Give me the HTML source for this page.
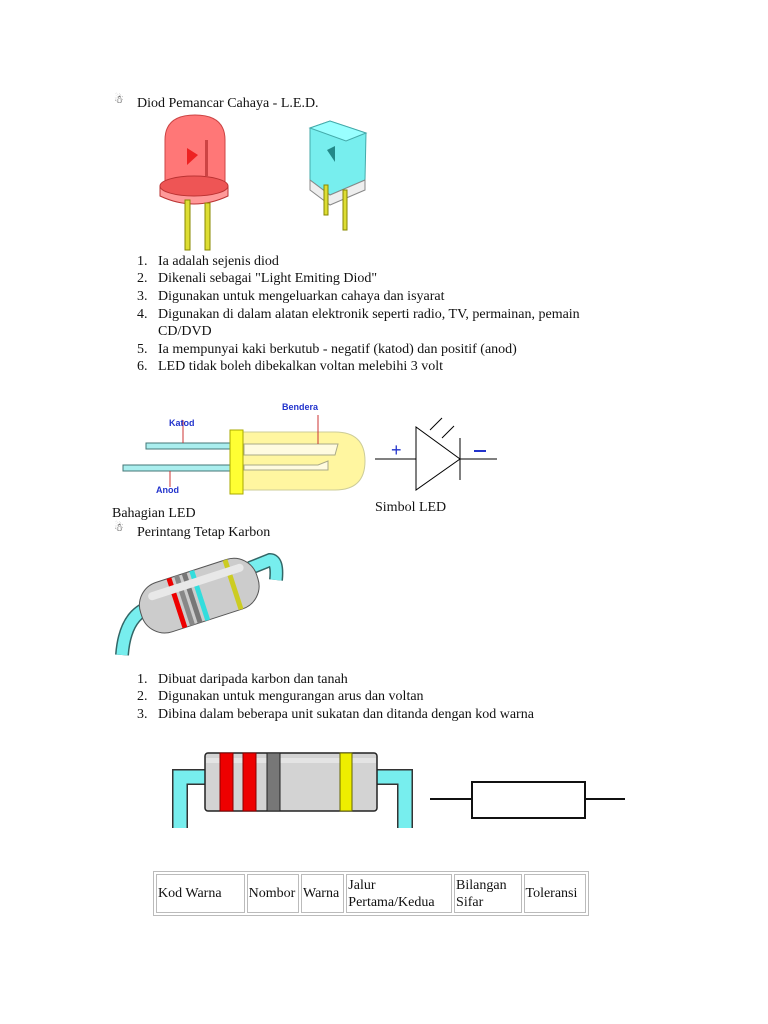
<!DOCTYPE html>
<html><head><meta charset="utf-8"><style>
body{margin:0;width:768px;height:1024px;background:#fff;position:relative;font-family:"Liberation Serif",serif;font-size:14px;color:#111;overflow:hidden}
.t{position:absolute;white-space:nowrap;line-height:17px}
svg{position:absolute;left:0;top:0}
table{position:absolute;left:153px;top:871px;border-collapse:separate;border-spacing:2px;border:1px solid #bbb;font-size:14px;table-layout:fixed;width:436px}
td{border:1px solid #bbb;height:37px;padding:0 1px;line-height:17px;overflow:hidden;white-space:nowrap}
</style></head><body>
<svg width="768" height="1024">
<!-- red LED -->
<path d="M165 182 L165 140 Q165 115 195 115 Q225 115 225 140 L225 182 Z" fill="#f77" stroke="#c44"/>
<path d="M160 186 L160 196 Q194 212 228 196 L228 186" fill="#f99" stroke="#b33"/>
<ellipse cx="194" cy="186" rx="34" ry="10" fill="#e55" stroke="#b33"/>
<rect x="185" y="200" width="5" height="50" fill="#dd3" stroke="#880"/>
<rect x="205" y="203" width="5" height="47" fill="#dd3" stroke="#880"/>
<path d="M187 148 L198 155 L187 165 Z" fill="#e22"/>
<path d="M205 140 L208 140 L208 176 L205 176 Z" fill="#c44"/>
<!-- cyan LED -->
<path d="M310 128 L330 121 L366 133 L365 180 L330 195 L310 180 Z" fill="#7ee" stroke="#4aa"/>
<path d="M310 128 L330 121 L366 133 L346 141 Z" fill="#9ff" stroke="#4aa"/>
<path d="M310 180 L330 195 L365 180 L365 190 L330 205 L310 190 Z" fill="#eee" stroke="#888"/>
<rect x="324" y="185" width="4" height="30" fill="#dd3" stroke="#880"/>
<rect x="343" y="190" width="4" height="40" fill="#dd3" stroke="#880"/>
<path d="M327 150 L335 146 L335 162 Z" fill="#288"/>
<!-- LED parts -->
<rect x="146" y="443" width="86" height="6" fill="#aee" stroke="#477"/>
<rect x="123" y="465" width="109" height="6" fill="#aee" stroke="#477"/>
<path d="M243 432 L335 432 Q365 432 365 461 Q365 490 335 490 L243 490 Z" fill="#fff6a0" stroke="#cc9"/>
<rect x="230" y="430" width="13" height="64" fill="#ff3" stroke="#aa0"/>
<path d="M244 444 L338 444 L335 455 L244 455 Z" fill="#fffbe0" stroke="#aa8"/>
<path d="M244 465 L318 465 L328 461 L328 470 L244 470 Z" fill="#fffbe0" stroke="#aa8"/>
<line x1="183" y1="420" x2="183" y2="443" stroke="#c33"/>
<line x1="170" y1="471" x2="170" y2="487" stroke="#c33"/>
<line x1="318" y1="415" x2="318" y2="444" stroke="#c33"/>
<g font-family="Liberation Sans,sans-serif" font-size="9" fill="#23c" font-weight="bold">
<text x="169" y="426">Katod</text><text x="156" y="493">Anod</text><text x="282" y="410">Bendera</text></g>
<!-- symbol -->
<line x1="375" y1="459" x2="497" y2="459" stroke="#000"/>
<path d="M416 427 L416 490 L460 459 Z" fill="#fff" stroke="#000"/>
<line x1="460" y1="438" x2="460" y2="480" stroke="#000"/>
<line x1="430" y1="430" x2="442" y2="418" stroke="#000"/><line x1="442" y1="438" x2="454" y2="426" stroke="#000"/>
<text x="391" y="456" fill="#23c" font-size="18" font-family="Liberation Sans,sans-serif">+</text>
<line x1="474" y1="451" x2="486" y2="451" stroke="#23c" stroke-width="2"/>
<!-- 3D resistor -->
<path d="M150 607 Q125 615 122 655" stroke="#366" stroke-width="14" fill="none"/>
<path d="M150 607 Q125 615 122 655" stroke="#7ee" stroke-width="11" fill="none"/>
<path d="M250 568 L270 560 Q278 560 276 580" stroke="#366" stroke-width="14" fill="none"/>
<path d="M250 568 L270 560 Q278 560 276 580" stroke="#7ee" stroke-width="11" fill="none"/>
<g transform="rotate(-18 198 595)">
<rect x="138" y="570" width="122" height="52" rx="24" fill="#ccc" stroke="#555"/>
<rect x="173" y="570" width="5" height="52" fill="#e00"/>
<rect x="181" y="570" width="5" height="52" fill="#888"/>
<rect x="189" y="570" width="5" height="52" fill="#777"/>
<rect x="197" y="570" width="5" height="52" fill="#3dd"/>
<rect x="232" y="570" width="5" height="52" fill="#cc2"/>
<rect x="150" y="578" width="100" height="8" rx="4" fill="#e8e8e8"/>
</g>
<!-- flat resistor -->
<path d="M205 777 L180 777 L180 828" stroke="#333" stroke-width="16" fill="none"/>
<path d="M205 777 L180 777 L180 828" stroke="#7ee" stroke-width="13" fill="none"/>
<path d="M377 777 L405 777 L405 828" stroke="#333" stroke-width="16" fill="none"/>
<path d="M377 777 L405 777 L405 828" stroke="#7ee" stroke-width="13" fill="none"/>
<rect x="205" y="753" width="172" height="58" rx="3" fill="#d3d3d3" stroke="#222" stroke-width="1.5"/>
<rect x="206" y="758" width="170" height="5" fill="#e4e4e4"/>
<rect x="220" y="753" width="13" height="58" fill="#e00" stroke="#800"/>
<rect x="243" y="753" width="13" height="58" fill="#e00" stroke="#800"/>
<rect x="267" y="753" width="13" height="58" fill="#777" stroke="#222"/>
<rect x="340" y="753" width="12" height="58" fill="#ee0" stroke="#660"/>
<line x1="430" y1="799" x2="625" y2="799" stroke="#111" stroke-width="2"/>
<rect x="472" y="782" width="113" height="36" fill="#fff" stroke="#111" stroke-width="2"/>
</svg>
<div class="t" style="left:114px;top:92px;font-size:11px">&#x2603;</div>
<div class="t" style="left:137px;top:95px">Diod Pemancar Cahaya - L.E.D.</div>
<div class="t" style="left:137px;top:253px">1.&nbsp;&nbsp;&nbsp;Ia adalah sejenis diod</div>
<div class="t" style="left:137px;top:270px">2.&nbsp;&nbsp;&nbsp;Dikenali sebagai "Light Emiting Diod"</div>
<div class="t" style="left:137px;top:288px">3.&nbsp;&nbsp;&nbsp;Digunakan untuk mengeluarkan cahaya dan isyarat</div>
<div class="t" style="left:137px;top:306px">4.&nbsp;&nbsp;&nbsp;Digunakan di dalam alatan elektronik seperti radio, TV, permainan, pemain</div>
<div class="t" style="left:158px;top:323px">CD/DVD</div>
<div class="t" style="left:137px;top:341px">5.&nbsp;&nbsp;&nbsp;Ia mempunyai kaki berkutub - negatif (katod) dan positif (anod)</div>
<div class="t" style="left:137px;top:358px">6.&nbsp;&nbsp;&nbsp;LED tidak boleh dibekalkan voltan melebihi 3 volt</div>
<div class="t" style="left:112px;top:505px">Bahagian LED</div>
<div class="t" style="left:375px;top:499px">Simbol LED</div>
<div class="t" style="left:114px;top:520px;font-size:11px">&#x2603;</div>
<div class="t" style="left:137px;top:524px">Perintang Tetap Karbon</div>
<div class="t" style="left:137px;top:671px">1.&nbsp;&nbsp;&nbsp;Dibuat daripada karbon dan tanah</div>
<div class="t" style="left:137px;top:688px">2.&nbsp;&nbsp;&nbsp;Digunakan untuk mengurangan arus dan voltan</div>
<div class="t" style="left:137px;top:706px">3.&nbsp;&nbsp;&nbsp;Dibina dalam beberapa unit sukatan dan ditanda dengan kod warna</div>
<table><colgroup><col style="width:88px"><col style="width:52px"><col style="width:43px"><col style="width:105px"><col style="width:67px"><col style="width:62px"></colgroup><tr><td>Kod Warna</td><td>Nombor</td><td>Warna</td><td>Jalur<br>Pertama/Kedua</td><td>Bilangan<br>Sifar</td><td>Toleransi</td></tr></table>
</body></html>
